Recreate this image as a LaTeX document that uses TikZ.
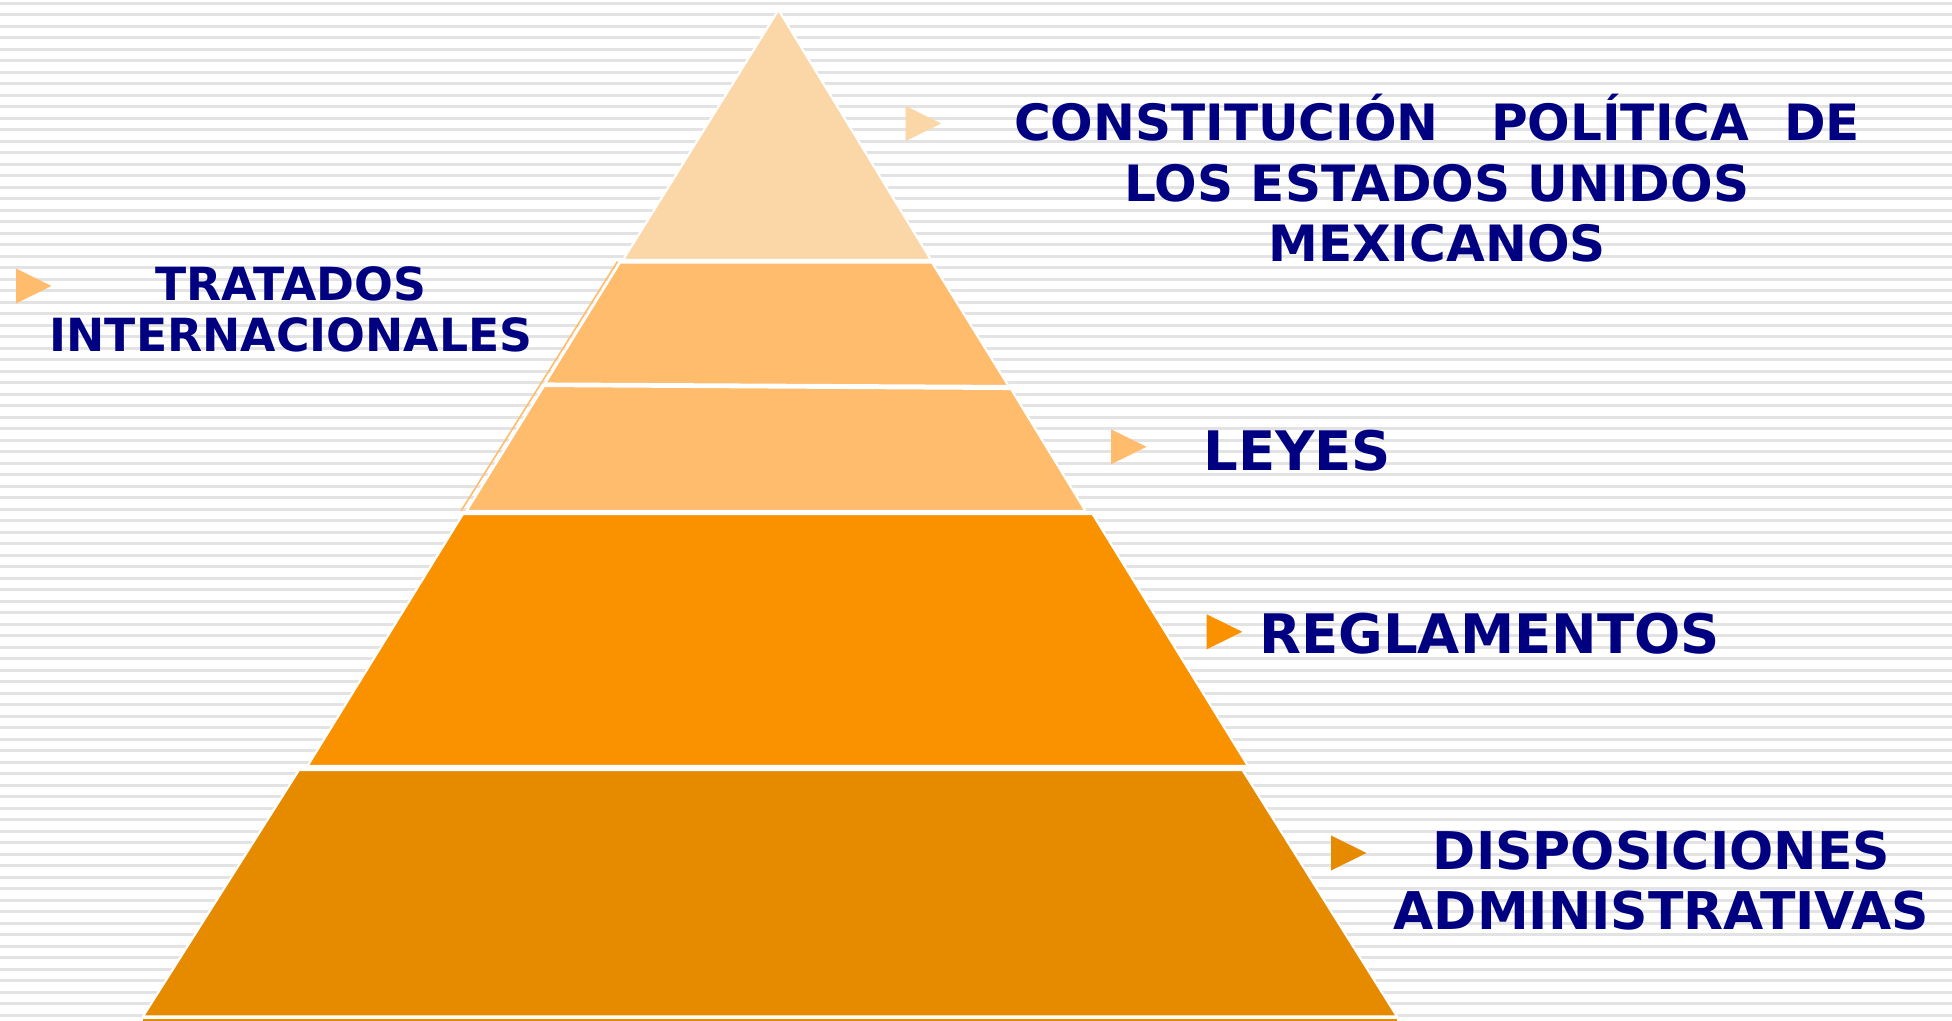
\documentclass[tikz,border=0pt]{standalone}
\usepackage{fontspec}
\usepackage{xcolor}
\newfontfamily\pyrfont{DejaVu Sans}

\definecolor{stripegray}{HTML}{E3E3E3}
\definecolor{capa1}{HTML}{FBD6A6}
\definecolor{capa2}{HTML}{FEBC6C}
\definecolor{capa4}{HTML}{FA9200}
\definecolor{capa5}{HTML}{E68A00}
\definecolor{textnavy}{HTML}{000080}

\tikzset{
  layer/.style={fill=#1, draw=white, line width=1.2pt},
  lawtext/.style 2 args={text=textnavy, inner sep=0pt,
    font=\pyrfont\bfseries\fontsize{#1}{#2}\selectfont},
}
% right-pointing bullet, top left corner at (#1,#2)
\newcommand{\pointer}[3]{\fill[#3] (#1,#2) -- ++(35.5,17.5) -- ++(-35.5,17.5) -- cycle;}

\begin{document}
\begin{tikzpicture}[x=0.02cm, y=-0.02cm]
  \useasboundingbox (0,0) rectangle (1952,1021);
  \fill[white] (0,0) rectangle (1952,1021);
  \foreach \k in {0,...,88}
    \draw[stripegray, line width=1.55pt] (0,3.3+11.5*\k) -- (1952,3.3+11.5*\k);

  % pyramid
  \draw[layer=capa1] (778.5,10) -- (931,260) -- (623,260) -- cycle;
  \draw[layer=capa2] (620,262.5) -- (932,262.5) -- (1008.5,386) -- (545,383.5) -- cycle;
  \draw[layer=capa2] (544,386) -- (1011,389) -- (1085.5,511) -- (466.5,511) -- cycle;
  \draw[capa2, line width=0.9pt] (617.5,261.5) -- (461,511);
  \draw[layer=capa4] (463,514) -- (1092.5,514) -- (1248,766) -- (307.5,766) -- cycle;
  \draw[layer=capa5] (299,770) -- (1242.5,770) -- (1397,1016.5) -- (143,1016.5) -- cycle;
  \draw[capa5, line width=1.4pt] (143,1020) -- (1397,1020);

  % bullets
  \pointer{905.7}{106}{capa1}
  \pointer{16}{268.5}{capa2}
  \pointer{1111}{429.3}{capa2}
  \pointer{1206.7}{614.3}{capa4}
  \pointer{1331}{835.5}{capa5}

  % labels (base = last line)
  \node[lawtext={28.5pt}{34.5pt}, align=center, anchor=base] (constitucion) at (1437,261.7)
    {CONSTITUCIÓN~~~POLÍTICA~~DE\\LOS ESTADOS UNIDOS\\MEXICANOS};
  \node[lawtext={26pt}{29pt}, align=center, anchor=base] (tratados) at (291,351.7)
    {TRATADOS\\INTERNACIONALES};
  \node[lawtext={31pt}{37pt}, anchor=base west] (leyes) at (1203,470.7) {LEYES};
  \node[lawtext={31pt}{37pt}, anchor=base west] (reglamentos) at (1259,653.3) {REGLAMENTOS};
  \node[lawtext={29.6pt}{34.1pt}, align=center, anchor=base] (disposiciones) at (1661.5,929.3)
    {DISPOSICIONES\\ADMINISTRATIVAS};
\end{tikzpicture}
\end{document}
